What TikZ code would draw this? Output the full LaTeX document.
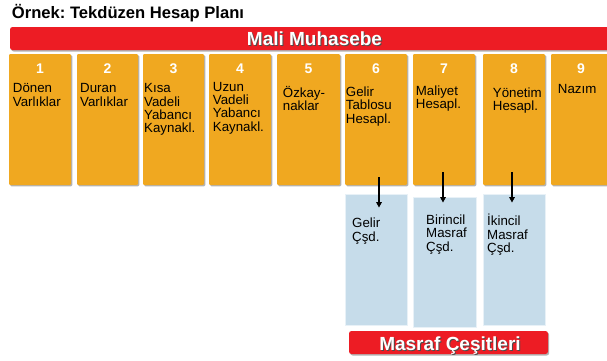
\documentclass[tikz,border=0pt]{standalone}
\usepackage{fontspec}
\setmainfont{Liberation Sans}
\usetikzlibrary{arrows.meta,shadows}
\definecolor{org}{HTML}{F0A820}
\definecolor{rd}{HTML}{ED1C24}
\definecolor{lb}{HTML}{C6DCEA}
\frenchspacing
\begin{document}
\begin{tikzpicture}[x=1pt,y=-1pt,
  obox/.style={fill=org, draw=none, rounded corners=1.2pt, minimum height=131pt, inner sep=0pt,
    drop shadow={shadow xshift=1.3pt, shadow yshift=-1.3pt, opacity=.55, fill=black!55}},
  bbox/.style={fill=lb, draw=white!60!lb, line width=.8pt, inner sep=0pt},
  rbar/.style={fill=rd, draw=none, rounded corners=2.5pt, inner sep=0pt,
    drop shadow={shadow xshift=1.2pt, shadow yshift=-1.5pt, opacity=.5, fill=black!60}},
  num/.style={anchor=base, inner sep=0pt, text=white, font=\fontsize{14}{14}\selectfont\bfseries},
  lbl/.style={anchor=north west, inner sep=0pt, align=left, text=black,
    font=\fontsize{13.3}{13.3}\selectfont,
    execute at begin node={\lineskiplimit=-20pt\relax\lineskip=0pt\relax}},
  bartxt/.style={anchor=base, inner sep=0pt, font=\fontsize{19}{19}\selectfont\bfseries},
  arr/.style={line width=1.6pt, -{Triangle[length=5.5pt,width=5.5pt]}}
]
\useasboundingbox (0,0) rectangle (607,360);
\clip (0,0) rectangle (607,360);

% title
\node[anchor=base west, inner sep=0pt, font=\fontsize{16.6}{16.6}\selectfont\bfseries] (title) at (11.7,18.3) {Örnek: Tekdüzen Hesap Planı};

% top red bar
\node[rbar, minimum width=604pt, minimum height=23pt] (top) at (312,38.5) {};
\node[bartxt, text=black!70] (topsh) at (315.5,46.7) {Mali Muhasebe};
\node[bartxt, text=white] (toptxt) at (314.5,45.7) {Mali Muhasebe};

% orange boxes
\node[obox, minimum width=62pt] (o1) at (40,119.5) {};
\node[obox, minimum width=61pt] (o2) at (107.5,119.5) {};
\node[obox, minimum width=61pt] (o3) at (173.5,119.5) {};
\node[obox, minimum width=62pt] (o4) at (240,119.5) {};
\node[obox, minimum width=63pt] (o5) at (308.5,119.5) {};
\node[obox, minimum width=62pt] (o6) at (376,119.5) {};
\node[obox, minimum width=62pt] (o7) at (444,119.5) {};
\node[obox, minimum width=62pt] (o8) at (514,119.5) {};
\node[obox, minimum width=60pt] (o9) at (581,119.5) {};

% numbers
\node[num] (n1) at (40,73.3) {1};
\node[num] (n2) at (107.5,73.3) {2};
\node[num] (n3) at (173.5,73.3) {3};
\node[num] (n4) at (240,73.3) {4};
\node[num] (n5) at (308.5,73.3) {5};
\node[num] (n6) at (376,73.3) {6};
\node[num] (n7) at (444,73.3) {7};
\node[num] (n8) at (514,73.3) {8};
\node[num] (n9) at (581,73.3) {9};

% labels (north = first baseline - 9.31)
\node[lbl] (t1) at (12.7,83.4) {\strut Dönen\\Varlıklar};
\node[lbl] (t2) at (80,83.4) {\strut Duran\\Varlıklar};
\node[lbl] (t3) at (144,83.4) {\strut Kısa\\Vadeli\\Yabancı\\Kaynakl.};
\node[lbl] (t4) at (212.7,81.7) {\strut Uzun\\Vadeli\\Yabancı\\Kaynakl.};
\node[lbl] (t5) at (282.7,86.2) {\strut Özkay-\\naklar};
\node[lbl] (t6) at (345.7,86.7) {\strut Gelir\\Tablosu\\Hesapl.};
\node[lbl] (t7) at (415.7,85.7) {\strut Maliyet\\Hesapl.};
\node[lbl] (t8) at (492.7,87.7) {\strut Yönetim\\Hesapl.};
\node[lbl] (t9) at (557.7,84) {\strut Nazım};

% blue boxes
\node[bbox, minimum width=62pt, minimum height=131pt] (b6) at (376,259.5) {};
\node[bbox, minimum width=63pt, minimum height=130pt] (b7) at (444.5,262) {};
\node[bbox, minimum width=62pt, minimum height=131pt] (b8) at (514,259.5) {};

\node[lbl] (c6) at (352,218) {\strut Gelir\\Çşd.};
\node[lbl] (c7) at (426,214.7) {\strut Birincil\\Masraf\\Çşd.};
\node[lbl] (c8) at (487,214) {\strut İkincil\\Masraf\\Çşd.};

% arrows
\draw[arr] ([xshift=3pt,yshift=8pt]o6.south) -- ([xshift=3pt,yshift=-14pt]b6.north);
\draw[arr] ([xshift=-1pt,yshift=13pt]o7.south) -- ([xshift=-1.5pt,yshift=-6pt]b7.north);
\draw[arr] ([xshift=-2pt,yshift=13pt]o8.south) -- ([xshift=-2pt,yshift=-9pt]b8.north);

% bottom red bar
\node[rbar, minimum width=199pt, minimum height=23pt] (bot) at (448.5,342.5) {};
\node[bartxt, text=black!70] (botsh) at (451,351) {Masraf Çeşitleri};
\node[bartxt, text=white] (bottxt) at (450,350) {Masraf Çeşitleri};
\end{tikzpicture}
\end{document}
